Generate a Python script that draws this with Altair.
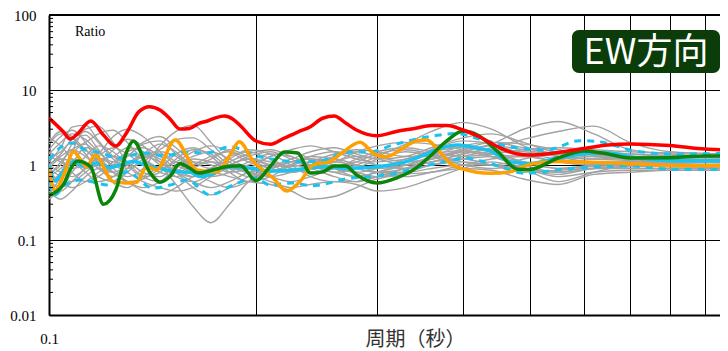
import altair as alt
import pandas as pd

# ---------------- data ----------------
# period grid of the grey (individual earthquake) curves
gray_periods = [0.1, 0.104, 0.108, 0.113, 0.118, 0.124, 0.13, 0.137, 0.145, 0.153,
                0.162, 0.172, 0.183, 0.195, 0.21, 0.225, 0.24, 0.26, 0.28, 0.3,
                0.33, 0.36, 0.4, 0.44, 0.49, 0.55, 0.62, 0.7, 0.8, 0.97]
gray_ratios = {
    "g01": [1.0, 1.4, 2.2, 2.8, 2.0, 1.2, 0.9, 1.1, 1.5, 1.3,
            0.9, 0.8, 1.0, 1.2, 1.0, 0.8, 0.9, 1.1, 1.3, 1.2,
            1.0, 1.1, 1.4, 1.6, 1.5, 1.3, 1.2, 1.25, 1.2, 1.15],
    "g02": [0.6, 0.5, 0.8, 1.3, 1.8, 1.5, 1.0, 0.7, 0.8, 1.2,
            1.6, 1.4, 0.9, 0.7, 0.8, 1.0, 1.1, 0.9, 0.8, 0.9,
            1.2, 1.5, 1.7, 1.5, 1.1, 0.9, 1.0, 1.1, 1.05, 1.0],
    "g03": [2.3, 1.8, 1.2, 0.9, 1.0, 1.6, 2.2, 1.8, 1.1, 0.8,
            0.7, 0.9, 1.3, 1.5, 1.2, 0.9, 0.8, 0.9, 1.1, 1.4,
            1.6, 1.4, 1.1, 1.0, 1.2, 1.5, 1.4, 1.2, 1.1, 1.1],
    "g04": [0.4, 0.7, 1.5, 3.0, 3.3, 2.0, 1.1, 0.7, 0.6, 0.8,
            1.1, 1.0, 0.8, 0.9, 1.3, 1.5, 1.2, 0.9, 0.7, 0.8,
            1.0, 1.3, 1.8, 2.0, 1.7, 1.4, 1.3, 1.2, 1.25, 1.3],
    "g05": [1.3, 1.1, 0.9, 1.0, 1.4, 2.4, 3.0, 2.4, 1.5, 1.0,
            0.8, 0.6, 0.5, 0.6, 0.8, 1.0, 1.3, 1.5, 1.3, 1.0,
            0.9, 1.0, 1.3, 1.5, 1.4, 1.2, 1.05, 1.0, 0.95, 0.95],
    "g06": [0.8, 1.0, 1.9, 2.5, 1.6, 0.9, 0.7, 0.9, 1.8, 2.8,
            3.4, 2.0, 1.1, 0.8, 0.9, 1.1, 1.0, 0.8, 0.7, 0.8,
            1.1, 1.6, 2.1, 1.9, 1.4, 1.1, 1.0, 1.05, 1.1, 1.1],
    "g07": [1.6, 2.4, 2.9, 2.0, 1.0, 0.6, 0.5, 0.7, 0.9, 0.55,
            0.28, 0.17, 0.3, 0.6, 0.9, 1.0, 0.9, 0.7, 0.6, 0.7,
            0.9, 1.1, 1.2, 1.0, 0.8, 0.85, 0.9, 0.9, 0.9, 0.9],
    "g08": [0.5, 0.45, 0.6, 0.9, 1.2, 1.0, 0.8, 0.6, 0.5, 0.45,
            0.5, 0.7, 0.9, 0.8, 0.6, 0.5, 0.55, 0.6, 0.55, 0.45,
            0.5, 0.65, 0.9, 1.1, 0.9, 0.7, 0.8, 0.85, 0.85, 0.85],
    "g09": [1.1, 1.7, 3.2, 3.4, 2.1, 1.3, 1.1, 1.4, 1.9, 1.5,
            1.0, 1.2, 1.6, 1.3, 1.0, 1.2, 1.5, 1.7, 1.4, 1.2,
            1.3, 1.7, 2.3, 2.6, 2.0, 1.5, 1.5, 1.4, 1.35, 1.3],
    "g10": [0.9, 0.7, 0.6, 0.8, 1.1, 1.3, 1.1, 0.8, 0.7, 1.0,
            1.3, 1.5, 1.2, 0.9, 0.7, 0.6, 0.7, 0.9, 1.1, 1.0,
            0.9, 1.0, 1.2, 1.3, 1.1, 0.9, 0.95, 1.0, 1.0, 1.0],
    "g11": [0.35, 0.5, 1.0, 1.7, 1.5, 1.0, 1.3, 1.9, 2.1, 1.4,
            0.9, 0.7, 0.8, 1.1, 1.4, 1.3, 1.0, 0.8, 0.9, 1.2,
            1.5, 1.3, 1.0, 0.9, 1.0, 1.2, 1.3, 1.25, 1.2, 1.2],
    "g12": [1.2, 1.5, 2.0, 1.6, 1.1, 0.8, 0.6, 0.5, 0.6, 0.9,
            1.2, 1.1, 0.9, 1.0, 1.3, 1.6, 1.8, 1.5, 1.2, 1.1,
            1.2, 1.4, 1.6, 1.9, 3.0, 3.8, 2.6, 1.6, 1.4, 1.3],
    "g13": [0.7, 0.9, 1.2, 1.0, 0.7, 0.6, 0.8, 1.2, 1.4, 1.1,
            0.8, 0.9, 1.2, 1.6, 1.4, 1.0, 0.7, 0.6, 0.6, 0.7,
            0.9, 1.1, 1.4, 1.7, 2.2, 2.8, 3.3, 2.0, 1.5, 1.4],
    "g14": [1.5, 1.2, 0.8, 0.6, 0.7, 1.0, 1.5, 1.7, 1.3, 0.9,
            0.7, 0.8, 1.1, 1.4, 1.6, 1.3, 1.0, 0.9, 1.0, 1.3,
            1.9, 2.8, 3.7, 3.0, 1.8, 1.3, 1.1, 1.1, 1.15, 1.2],
    "g15": [0.45, 0.35, 0.45, 0.7, 0.9, 0.8, 0.6, 0.45, 0.4, 0.5,
            0.7, 0.8, 0.7, 0.6, 0.55, 0.45, 0.35, 0.38, 0.5, 0.65,
            0.75, 0.8, 0.9, 0.85, 0.65, 0.55, 0.75, 0.8, 0.85, 0.85],
    "g16": [1.0, 1.3, 1.6, 1.3, 0.9, 0.7, 0.9, 1.3, 1.1, 0.8,
            0.6, 0.5, 0.6, 0.8, 1.0, 0.9, 0.8, 0.9, 1.2, 1.5,
            1.7, 1.5, 1.3, 1.4, 1.6, 1.7, 1.6, 1.5, 1.45, 1.4],
    "g17": [0.8, 0.6, 0.5, 0.6, 0.8, 1.1, 1.4, 1.2, 0.9, 0.8,
            1.0, 1.3, 1.5, 1.2, 0.9, 0.8, 0.9, 1.0, 0.9, 0.8,
            0.8, 0.9, 1.0, 1.0, 0.9, 0.8, 0.9, 0.95, 1.0, 1.0],
    "g18": [1.9, 2.6, 2.3, 1.4, 0.9, 0.8, 1.0, 1.4, 1.2, 0.8,
            0.5, 0.4, 0.5, 0.7, 0.9, 1.1, 1.2, 1.1, 1.0, 0.9,
            1.0, 1.2, 1.5, 1.3, 0.9, 0.6, 0.8, 1.0, 1.05, 1.1],
    "g19": [1.4, 2.0, 2.6, 2.2, 1.5, 1.1, 1.3, 2.0, 2.4, 1.7,
            1.1, 0.9, 1.0, 1.3, 1.5, 1.2, 1.0, 1.1, 1.5, 1.8,
            2.0, 1.9, 1.6, 1.4, 1.3, 1.4, 1.5, 1.4, 1.3, 1.25],
    "g20": [0.7, 1.1, 1.6, 2.0, 2.6, 2.9, 2.0, 1.2, 0.9, 1.1,
            1.5, 1.8, 1.5, 1.1, 0.9, 0.8, 1.0, 1.3, 1.5, 1.3,
            1.1, 1.2, 1.5, 1.8, 1.6, 1.3, 1.2, 1.15, 1.1, 1.1],
    "g21": [1.0, 0.8, 0.7, 0.9, 1.3, 1.7, 1.4, 1.0, 0.8, 0.7,
            0.9, 1.1, 1.0, 0.8, 0.7, 0.8, 1.0, 1.2, 1.0, 0.8,
            0.7, 0.8, 1.0, 1.2, 1.3, 1.1, 1.0, 1.0, 0.95, 0.95],
    "g22": [0.55, 0.8, 1.4, 1.9, 1.3, 0.8, 0.6, 0.65, 0.9, 1.4,
            1.7, 1.3, 0.8, 0.6, 0.7, 1.0, 1.3, 1.2, 0.9, 0.8,
            0.9, 1.2, 1.5, 1.3, 1.0, 0.8, 1.0, 1.1, 1.1, 1.05],
    "g23": [2.0, 2.8, 2.4, 1.6, 1.2, 1.3, 1.7, 1.5, 1.0, 0.7,
            0.6, 0.75, 1.0, 1.2, 1.1, 0.95, 1.1, 1.4, 1.6, 1.5,
            1.3, 1.3, 1.6, 2.0, 1.9, 1.6, 1.35, 1.3, 1.3, 1.3],
    "g24": [0.9, 1.2, 1.1, 0.8, 0.6, 0.7, 1.0, 1.3, 1.6, 2.2,
            2.3, 1.6, 1.0, 0.8, 0.9, 1.1, 1.2, 1.0, 0.8, 0.7,
            0.8, 1.0, 1.1, 1.0, 0.85, 0.75, 0.9, 0.95, 0.95, 0.9],
}

red_period = [0.1, 0.105, 0.1073, 0.11, 0.115, 0.12, 0.125, 0.13, 0.135, 0.14,
              0.145, 0.15, 0.155, 0.16, 0.165, 0.17, 0.175, 0.18, 0.185, 0.19,
              0.2, 0.21, 0.22, 0.23, 0.24, 0.25, 0.26, 0.27, 0.28, 0.3,
              0.32, 0.34, 0.36, 0.38, 0.4, 0.42, 0.45, 0.48, 0.5, 0.55,
              0.6, 0.65, 0.7, 0.8, 0.9, 0.97]
red_ratio = [4.23, 2.75, 2.22, 2.6, 3.86, 2.51, 1.79, 2.8, 5.09, 6.0,
             5.41, 4.11, 3.02, 3.07, 3.57, 3.86, 4.29, 4.50, 4.11, 3.31,
             2.09, 1.89, 2.29, 2.75, 3.24, 4.2, 4.50, 3.63, 2.93, 2.46,
             2.80, 3.07, 3.36, 3.36, 2.93, 2.44, 1.74, 1.40, 1.36, 1.47,
             1.66, 1.85, 1.91, 1.82, 1.63, 1.585]

green_period = [0.1, 0.105, 0.1073, 0.11, 0.115, 0.12, 0.125, 0.13, 0.1326, 0.14,
                0.145, 0.15, 0.155, 0.16, 0.165, 0.17, 0.175, 0.18, 0.185, 0.19,
                0.2, 0.21, 0.22, 0.23, 0.24, 0.25, 0.26, 0.27, 0.28, 0.3,
                0.32, 0.34, 0.36, 0.38, 0.4, 0.42, 0.45, 0.48, 0.5, 0.55,
                0.6, 0.65, 0.7, 0.8, 0.9, 0.97]
green_ratio = [0.398, 0.55, 0.86, 1.13, 0.94, 0.30, 0.46, 1.585, 2.09, 0.81,
               0.59, 0.71, 1.05, 0.91, 0.78, 0.82, 0.88, 0.94, 0.97, 0.98,
               0.62, 0.97, 1.49, 1.45, 0.78, 0.81, 0.97, 0.97, 0.74, 0.575,
               0.67, 0.88, 1.36, 2.15, 2.84, 2.51, 1.49, 0.88, 0.87, 1.24,
               1.54, 1.40, 1.24, 1.25, 1.32, 1.32]

orange_period = [0.1, 0.102, 0.1055, 0.1085, 0.1135, 0.1166, 0.124, 0.1297, 0.1341, 0.1387,
                 0.1434, 0.1525, 0.164, 0.1754, 0.1833, 0.1891, 0.1983, 0.212, 0.2216, 0.2317,
                 0.2423, 0.2562, 0.2679, 0.2834, 0.298, 0.3098, 0.324, 0.3425, 0.3543, 0.3664,
                 0.3831, 0.4006, 0.4379, 0.4683, 0.5006, 0.5475, 0.6121, 0.6842, 0.765, 0.8556,
                 0.97]
orange_ratio = [0.91, 0.46, 0.81, 1.50, 0.95, 1.36, 0.60, 0.575, 0.59, 0.95,
                0.86, 2.15, 0.86, 0.81, 1.36, 2.04, 1.11, 0.665, 0.45, 0.60,
                1.0, 1.11, 1.50, 2.01, 1.39, 1.29, 1.59, 2.09, 2.15, 1.67,
                1.05, 0.88, 0.775, 0.81, 1.02, 1.11, 1.09, 1.05, 1.0, 0.98,
                0.98]

mean_period = [0.1, 0.102, 0.1048, 0.1085, 0.1122, 0.1173, 0.1227, 0.1268, 0.1326, 0.1387,
               0.1466, 0.1534, 0.1604, 0.1658, 0.1714, 0.1833, 0.1983, 0.2096, 0.2166, 0.2317,
               0.2533, 0.2679, 0.2834, 0.2997, 0.324, 0.3466, 0.3704, 0.3939, 0.4175, 0.4379,
               0.4683, 0.5006, 0.5475, 0.6121, 0.648, 0.699, 0.765, 0.8556, 0.97]
mean_ratio = [1.0, 0.61, 0.81, 1.11, 0.97, 1.06, 0.92, 1.0, 1.11, 0.98,
              0.88, 0.81, 0.80, 0.70, 0.74, 0.95, 0.90, 0.83, 0.83, 0.88,
              0.95, 0.90, 0.92, 0.95, 1.05, 1.29, 1.67, 1.85, 1.70, 1.55,
              1.11, 1.05, 1.23, 1.43, 1.46, 1.29, 1.17, 1.14, 1.14]

upper_period = [0.1, 0.1037, 0.108, 0.1128, 0.1186, 0.1268, 0.137, 0.1475, 0.1577, 0.1697,
                0.1833, 0.2025, 0.2292, 0.245, 0.2713, 0.2934, 0.3167, 0.3466, 0.3704, 0.3918,
                0.4187, 0.4379, 0.4683, 0.529, 0.5912, 0.6317, 0.7085, 0.8089, 0.97]
upper_ratio = [1.17, 1.69, 1.97, 1.59, 1.45, 1.24, 1.45, 1.32, 1.49, 1.45,
               1.74, 1.29, 1.11, 1.11, 1.48, 1.50, 1.85, 2.27, 2.51, 2.64,
               2.27, 2.04, 1.74, 1.59, 2.11, 2.04, 1.55, 1.40, 1.43]

lower_period = [0.1, 0.102, 0.1055, 0.111, 0.1227, 0.1298, 0.1416, 0.15, 0.1588, 0.1714,
                0.1851, 0.1996, 0.2096, 0.2263, 0.2414, 0.274, 0.2934, 0.324, 0.3466, 0.3787,
                0.4049, 0.4379, 0.4946, 0.5589, 0.6259, 0.699, 0.8089, 0.97]
lower_ratio = [0.575, 0.40, 0.54, 0.63, 0.54, 0.81, 0.49, 0.54, 0.63, 0.40,
               0.54, 0.67, 0.54, 0.575, 0.53, 0.665, 0.70, 0.80, 0.95, 1.11,
               1.23, 1.05, 0.775, 0.876, 0.95, 0.97, 0.876, 0.876]

x_grid_values = [0.1, 0.2, 0.3, 0.4, 0.5, 0.6, 0.7, 0.8, 0.9]
y_label_values = [0.01, 0.1, 1, 10, 100]
minor_tick_values = [0.02, 0.03, 0.04, 0.05, 0.06, 0.07, 0.08, 0.09,
                     0.2, 0.3, 0.4, 0.5, 0.6, 0.7, 0.8, 0.9,
                     2, 3, 4, 5, 6, 7, 8, 9,
                     20, 30, 40, 50, 60, 70, 80, 90]

# ---------------- tables ----------------
gray_rows = []
for name, vals in gray_ratios.items():
    for p, v in zip(gray_periods, vals):
        gray_rows.append({"period": p, "ratio": v, "eq": name})
gray_df = pd.DataFrame(gray_rows)


def frame(periods, ratios):
    return pd.DataFrame({"period": periods, "ratio": ratios})


W, H = 671, 300
xscale = alt.Scale(type="log", domain=[0.1, 0.946], nice=False, zero=False)
yscale = alt.Scale(type="log", domain=[0.01, 100], nice=False, zero=False)

xaxis = alt.Axis(values=x_grid_values, grid=True, gridColor="#000000", gridWidth=1,
                 gridOpacity=1, ticks=False, domain=True, domainColor="#000000",
                 domainWidth=2, labelExpr="datum.value < 0.15 ? '0.1' : ''",
                 labelFont="Liberation Serif", labelFontSize=15, labelColor="#000000",
                 labelPadding=16, labelFlush=False, labelOverlap=False,
                 labelAlign="center", title="周期（秒）", titleFont="Noto Sans CJK JP",
                 titleFontSize=20, titleFontWeight="normal", titleColor="#333333",
                 titleX=366, titleY=24, titleAlign="center", titleBaseline="middle")
yaxis = alt.Axis(values=y_label_values, format="~g", grid=True, gridColor="#000000",
                 gridWidth=1, gridOpacity=1, ticks=False, domain=True,
                 domainColor="#000000", domainWidth=2, labelFont="Liberation Serif",
                 labelFontSize=15, labelColor="#000000", labelPadding=13,
                 labelOverlap=False, labelFlush=False, title=None)


def X():
    return alt.X("period:Q", scale=xscale, axis=xaxis)


def Y():
    return alt.Y("ratio:Q", scale=yscale, axis=yaxis)


gray = alt.Chart(gray_df).mark_line(color="#a3a3a3", strokeWidth=1.4, clip=True,
                                    interpolate="monotone").encode(
    x=X(), y=Y(), detail="eq:N")

cyan = "#19c3ef"
upper = alt.Chart(frame(upper_period, upper_ratio)).mark_line(
    color=cyan, strokeWidth=3, strokeDash=[7, 6], clip=True, interpolate="monotone"
).encode(x=X(), y=Y())
lower = alt.Chart(frame(lower_period, lower_ratio)).mark_line(
    color=cyan, strokeWidth=3, strokeDash=[7, 6], clip=True, interpolate="monotone"
).encode(x=X(), y=Y())
mean = alt.Chart(frame(mean_period, mean_ratio)).mark_line(
    color=cyan, strokeWidth=3.5, clip=True, interpolate="monotone"
).encode(x=X(), y=Y())
orange = alt.Chart(frame(orange_period, orange_ratio)).mark_line(
    color="#ffa000", strokeWidth=3.5, clip=True, interpolate="monotone"
).encode(x=X(), y=Y())
green = alt.Chart(frame(green_period, green_ratio)).mark_line(
    color="#0a850a", strokeWidth=3.5, clip=True, interpolate="monotone"
).encode(x=X(), y=Y())
red = alt.Chart(frame(red_period, red_ratio)).mark_line(
    color="#ff0000", strokeWidth=3.5, clip=True, interpolate="monotone"
).encode(x=X(), y=Y())

minor = alt.Chart(pd.DataFrame({"ratio": minor_tick_values})).mark_rule(
    color="#000000", strokeWidth=1
).encode(y=Y(), x=alt.value(0), x2=alt.value(4))

one = pd.DataFrame({"a": [0]})
top_border = alt.Chart(one).mark_rule(color="#000000", strokeWidth=2).encode(
    x=alt.value(0), x2=alt.value(W), y=alt.value(0))

ratio_label = alt.Chart(one).mark_text(
    text="Ratio", font="Liberation Serif", fontSize=14, color="#000000",
    align="left", baseline="middle").encode(x=alt.value(26), y=alt.value(17))

badge = alt.Chart(one).mark_rect(color="#0a3d0a", cornerRadius=7).encode(
    x=alt.value(523), x2=alt.value(W), y=alt.value(15), y2=alt.value(58))
badge_text = alt.Chart(one).mark_text(
    text="EW方向", font="Noto Sans CJK JP", fontSize=36, color="#ffffff",
    align="center", baseline="middle").encode(x=alt.value(597), y=alt.value(38))

chart = alt.layer(
    gray, upper, lower, mean, orange, green, red, minor, top_border,
    ratio_label, badge, badge_text
).properties(
    width=W, height=H,
    padding={"left": 41, "top": 7, "right": 0, "bottom": 36},
    autosize=alt.AutoSizeParams(type="none"),
    background="white",
).configure_view(strokeWidth=0)

chart.save("out.html", embed_options={"renderer": "svg", "actions": False})
